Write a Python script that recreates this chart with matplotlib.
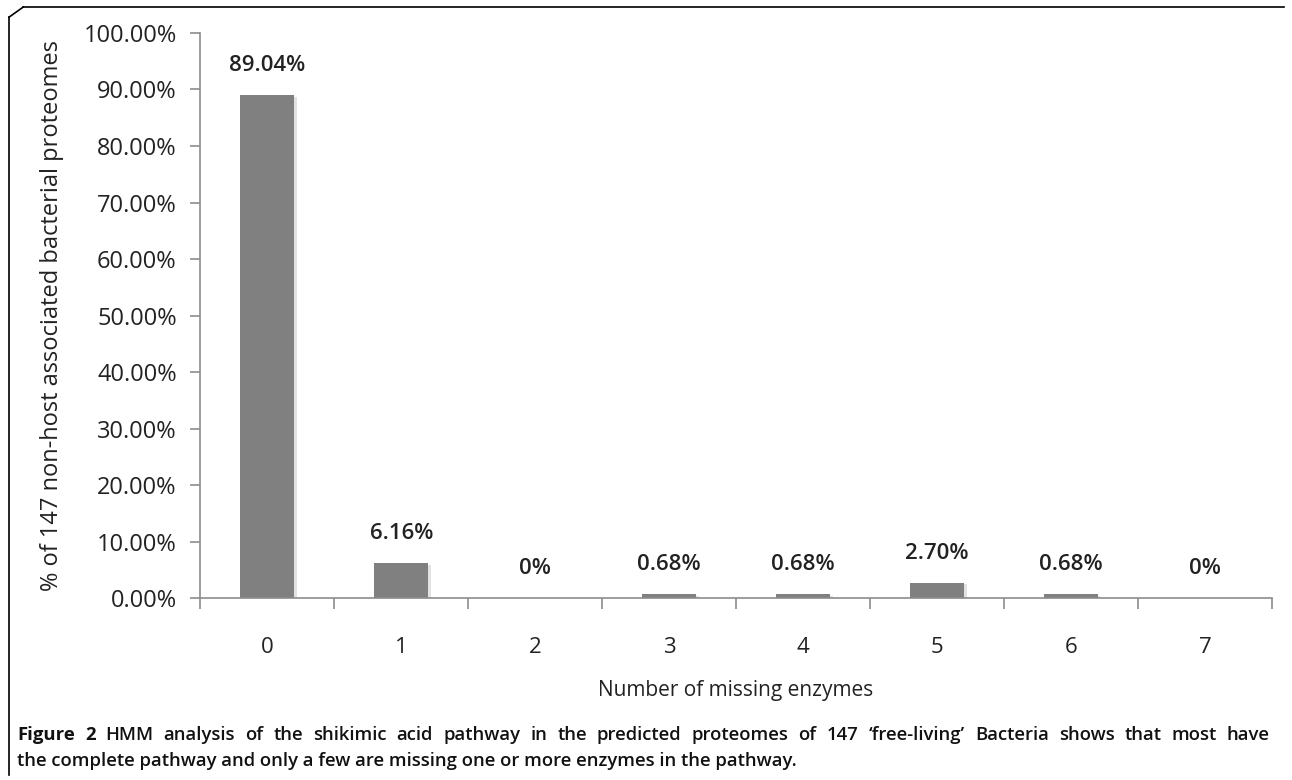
import numpy as np
import matplotlib.pyplot as plt
from matplotlib.lines import Line2D

# data
categories = ['0', '1', '2', '3', '4', '5', '6', '7']
values = [89.04, 6.16, 0.0, 0.68, 0.68, 2.70, 0.68, 0.0]
value_labels = ['89.04%', '6.16%', '0%', '0.68%', '0.68%', '2.70%', '0.68%', '0%']
yticks = [0, 10, 20, 30, 40, 50, 60, 70, 80, 90, 100]

plt.rcParams['font.family'] = ['Open Sans', 'DejaVu Sans']

fig = plt.figure(figsize=(12.92, 7.80), dpi=100)
ax = fig.add_axes([0.155, 0.2333, 0.8295, 0.7244])

x = np.arange(len(categories))
shown = [v if v > 0 else np.nan for v in values]
# faint shadow then bar
ax.bar(x + 0.02, shown, width=0.4, bottom=-0.3, color='#e2e2e2', zorder=1)
ax.bar(x, shown, width=0.4, color='#808080', zorder=2)

for xi, v, lab in zip(x, values, value_labels):
    ax.text(xi, v + 3.4, lab, ha='center', va='bottom', fontsize=16,
            fontweight='semibold', color='#222222')

ax.set_xlim(-0.5, 7.5)
ax.set_ylim(0, 100)
ax.set_yticks(yticks)
ax.set_yticklabels([f'{t:.2f}%' for t in yticks], fontsize=17, color='#222222')
ax.set_xticks(x)
ax.set_xticklabels(categories, fontsize=16, color='#222222')
ax.set_xticks(np.arange(-0.5, 8.0, 1.0), minor=True)
ax.tick_params(axis='x', which='major', length=0, pad=28)
ax.tick_params(axis='x', which='minor', length=8, color='#8c8c8c', width=1.2)
ax.tick_params(axis='y', which='major', length=7, color='#8c8c8c', width=1.2, pad=10)

for s in ['top', 'right']:
    ax.spines[s].set_visible(False)
for s in ['left', 'bottom']:
    ax.spines[s].set_color('#8c8c8c')
    ax.spines[s].set_linewidth(1.2)

ax.set_ylabel('% of 147 non-host associated bacterial proteomes', fontsize=17,
              color='#222222', labelpad=14)
fig.text(0.569, 0.115, 'Number of missing enzymes', ha='center', va='center',
         fontsize=15, color='#222222')

# caption, first line justified between left and right margins
cap1 = ("HMM analysis of the shikimic acid pathway in the predicted proteomes of 147 "
        "\u2018free-living\u2019 Bacteria shows that most have")
cap2 = "the complete pathway and only a few are missing one or more enzymes in the pathway."
fs = 13.3
W = fig.bbox.width
left_px, right_px = 17, 1270
words = [('Figure', 'bold'), ('2', 'bold')] + [(w, 'semibold') for w in cap1.split()]
fig.canvas.draw()
r = fig.canvas.get_renderer()
arts = []
widths = []
for w, wt in words:
    t = fig.text(0, 0.058, w, fontsize=fs, fontweight=wt, va='center', color='#111111')
    widths.append(t.get_window_extent(r).width)
    arts.append(t)
gap = (right_px - left_px - sum(widths)) / (len(words) - 1)
pos = left_px
for t, wd in zip(arts, widths):
    t.set_x(pos / W)
    pos += wd + gap
fig.text(left_px / W, 0.024, cap2, fontsize=fs, fontweight='semibold', va='center', color='#111111')

# frame lines (left and top)
fig.add_artist(Line2D([0.007, 0.007], [0.006, 0.978], color='black', lw=1.2))
fig.add_artist(Line2D([0.018, 0.994], [0.991, 0.991], color='black', lw=1.2))
fig.add_artist(Line2D([0.007, 0.018], [0.978, 0.991], color='black', lw=1.2))

fig.savefig('out.png', dpi=100)
